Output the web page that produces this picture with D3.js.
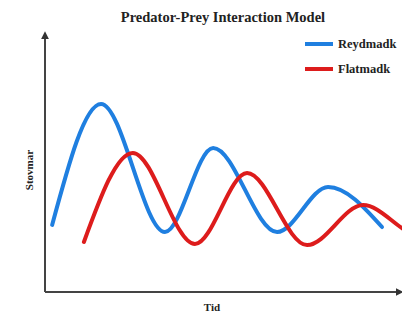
<!DOCTYPE html>
<html><head><meta charset="utf-8">
<script src="https://cdn.jsdelivr.net/npm/d3@7"></script>
<style>html,body{margin:0;padding:0;background:#fff;overflow:hidden}</style>
</head><body>
<svg id="c" width="402" height="314"></svg>
<script>
// Data (time units 0..10, population units 0..100)
const title = "Predator-Prey Interaction Model";
const xLabel = "Tid";
const yLabel = "Stovmar";
const seriesNames = ["Reydmadk", "Flatmadk"];
const preyT   = [0.2, 1.57, 3.36, 4.71, 6.50, 7.93, 9.44];
const preyV   = [25.6, 71.8, 22.9, 55.0, 22.9, 40.1, 24.8];
const predT   = [1.09, 2.46, 4.20, 5.66, 7.34, 8.91, 10.0, 10.5];
const predV   = [19.1, 53.1, 18.3, 45.4, 17.9, 33.2, 24.4, 19.5];
const colors = ["#1f7fe0", "#dd1c1c"];

const svg = d3.select("#c");
const x = d3.scaleLinear().domain([0, 10]).range([45, 402]);
const y = d3.scaleLinear().domain([0, 100]).range([292, 30]);

// axes with arrows
const defs = svg.append("defs");
defs.append("marker").attr("id","arr").attr("viewBox","0 0 10 10").attr("refX",5).attr("refY",5)
  .attr("markerWidth",4).attr("markerHeight",4).attr("orient","auto")
  .append("path").attr("d","M0,0L10,5L0,10z").attr("fill","#333");
svg.append("line").attr("x1",x(0)).attr("y1",y(0)).attr("x2",x(0)).attr("y2",y(98))
  .attr("stroke","#444").attr("stroke-width",2).attr("marker-end","url(#arr)");
svg.append("line").attr("x1",x(0)).attr("y1",y(0)).attr("x2",x(9.93)).attr("y2",y(0))
  .attr("stroke","#444").attr("stroke-width",2).attr("marker-end","url(#arr)");

const line = d3.line().x(d => x(d[0])).y(d => y(d[1])).curve(d3.curveMonotoneX);
svg.append("path").datum(preyT.map((t,i)=>[t,preyV[i]]))
  .attr("d", line).attr("fill","none").attr("stroke",colors[0]).attr("stroke-width",4).attr("stroke-linecap","round");
svg.append("path").datum(predT.map((t,i)=>[t,predV[i]]))
  .attr("d", line).attr("fill","none").attr("stroke",colors[1]).attr("stroke-width",4).attr("stroke-linecap","round");

const font = "'Liberation Serif', 'DejaVu Serif', serif";
svg.append("text").attr("x",223).attr("y",22).attr("text-anchor","middle")
  .attr("font-family",font).attr("font-weight","bold").attr("font-size",14.5).attr("fill","#222").text(title);

// legend
seriesNames.forEach((n,i) => {
  const ly = 44 + i*25;
  svg.append("line").attr("x1",305).attr("x2",333).attr("y1",ly).attr("y2",ly)
    .attr("stroke",colors[i]).attr("stroke-width",4);
  svg.append("text").attr("x",338).attr("y",ly+4).attr("font-family",font).attr("font-weight","bold")
    .attr("font-size",12.5).attr("fill","#222").text(n);
});

svg.append("text").attr("x",212).attr("y",311).attr("text-anchor","middle")
  .attr("font-family",font).attr("font-weight","bold").attr("font-size",11).attr("fill","#222").text(xLabel);
svg.append("text").attr("transform","translate(33,170) rotate(-90)").attr("text-anchor","middle")
  .attr("font-family",font).attr("font-weight","bold").attr("font-size",11).attr("fill","#222").text(yLabel);
</script>
</body></html>
